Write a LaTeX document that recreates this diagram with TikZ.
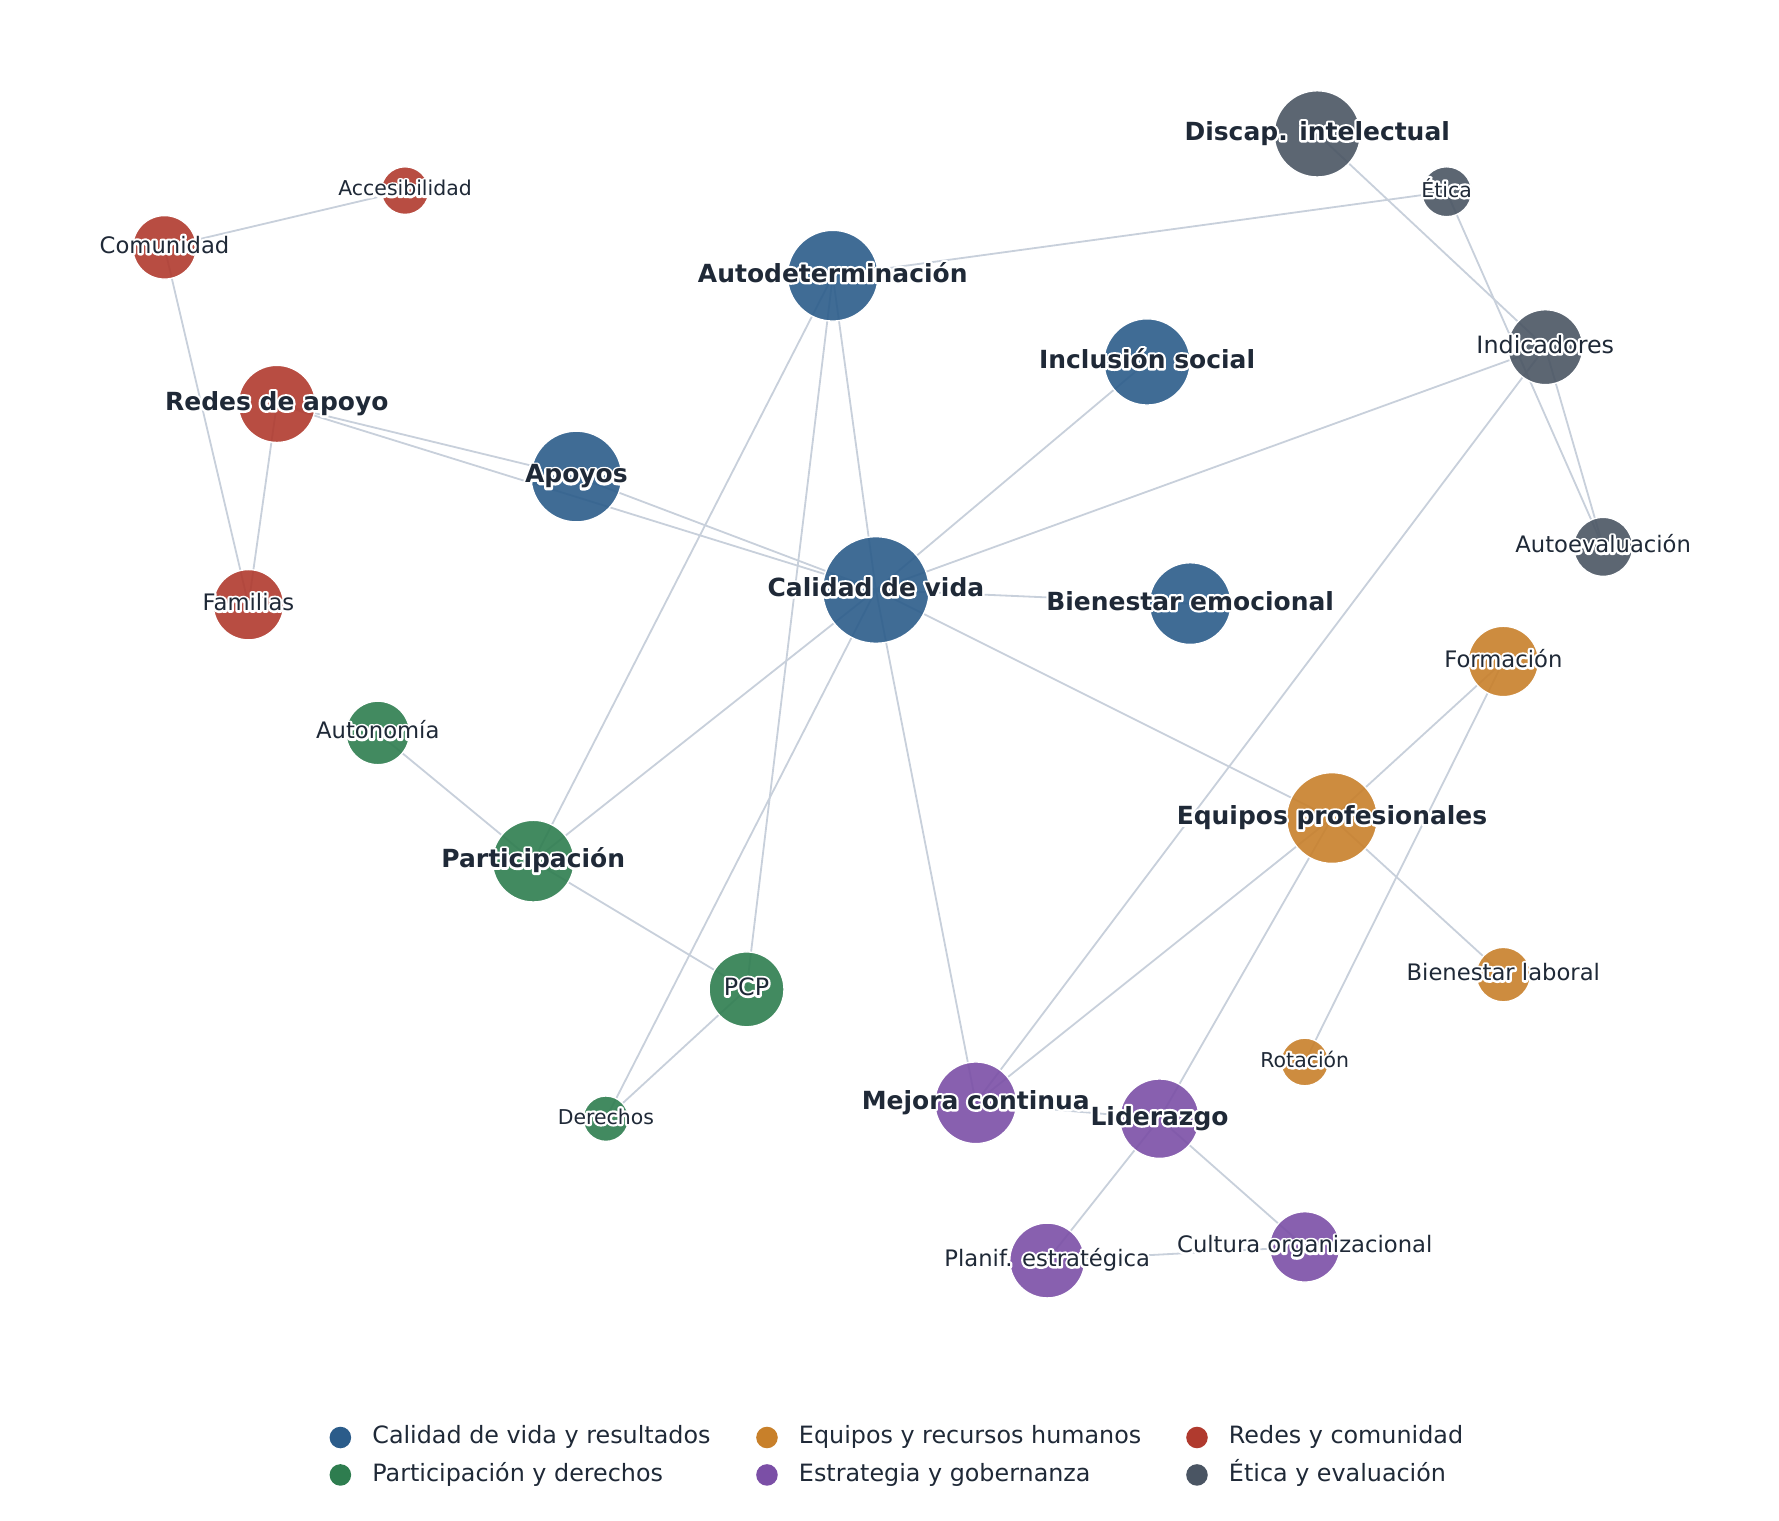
\documentclass[tikz,border=0pt]{standalone}
\usepackage{fontspec}
\setmainfont{DejaVu Sans}
\pgfdeclarelayer{edges}
\pgfdeclarelayer{labels}
\pgfsetlayers{edges,main,labels}
\definecolor{cq}{HTML}{2B5C8A}
\definecolor{cp}{HTML}{2E7D4F}
\definecolor{ce}{HTML}{C8802A}
\definecolor{cs}{HTML}{7B4FA6}
\definecolor{cr}{HTML}{B03A2E}
\definecolor{cg}{HTML}{4A5563}
\definecolor{txt}{HTML}{1F2937}
\definecolor{edgec}{HTML}{C8D0DB}
\tikzset{
  vtx/.style={circle, inner sep=0pt, draw=white, line width=1.2pt, fill opacity=0.9},
  conn/.style={draw=edgec, line width=1.6pt},
  lbold/.style={font=\fontsize{22}{26}\selectfont\bfseries, text height=16.7pt, text depth=5.3pt},
  lbig/.style={font=\fontsize{21}{25}\selectfont, text height=16pt, text depth=5pt},
  lmid/.style={font=\fontsize{20}{24}\selectfont, text height=15.2pt, text depth=4.8pt},
  lsmall/.style={font=\fontsize{18}{22}\selectfont, text height=13.7pt, text depth=4.3pt},
  legtext/.style={font=\fontsize{21}{25}\selectfont, text=txt, anchor=west, inner sep=0pt, text height=16pt, text depth=5pt},
  legdot/.style={circle, inner sep=0pt, minimum size=19pt},
}
\newcommand\vtx[5]{\node[vtx, fill=#5, minimum size=#4pt] (#1) at (#2,#3) {};}
\newcommand\haloon{\special{pdf:literal direct 1 Tr 4 w 1 j}}
\newcommand\halooff{\special{pdf:literal direct 0 Tr 0.3985 w 0 j}}
\newcommand\lbl[3]{%
  \node[#2, text=white, inner sep=0pt] (#1-h) at (#1.center) {\haloon#3\halooff};
  \node[#2, text=txt, inner sep=0pt] (#1-t) at (#1.center) {#3};}
\begin{document}
\begin{tikzpicture}[x=1pt, y=-1pt]
\useasboundingbox (0,0) rectangle (1568,1340);
% nodes
\vtx{calidad}{772}{520}{94}{cq}
\vtx{apoyos}{508}{420}{80}{cq}
\vtx{autodet}{734}{243}{80}{cq}
\vtx{inclusion}{1011}{319}{76}{cq}
\vtx{bienestar}{1049}{532}{72}{cq}
\vtx{redes}{244}{356}{68}{cr}
\vtx{comunidad}{145}{218}{56}{cr}
\vtx{accesib}{357}{168}{42}{cr}
\vtx{familias}{219}{533}{62}{cr}
\vtx{participacion}{470}{759}{72}{cp}
\vtx{pcp}{658}{872}{66}{cp}
\vtx{autonomia}{333}{646}{56}{cp}
\vtx{derechos}{534}{986}{40}{cp}
\vtx{equipos}{1174}{721}{80}{ce}
\vtx{formacion}{1325}{583}{62}{ce}
\vtx{bienlab}{1325}{859}{48}{ce}
\vtx{rotacion}{1150}{936}{42}{ce}
\vtx{mejora}{860}{972}{72}{cs}
\vtx{liderazgo}{1022}{986}{70}{cs}
\vtx{planif}{923}{1111}{66}{cs}
\vtx{cultura}{1150}{1099}{62}{cs}
\vtx{discap}{1161}{118}{76}{cg}
\vtx{etica}{1275}{169}{44}{cg}
\vtx{indicadores}{1362}{306}{66}{cg}
\vtx{autoeval}{1413}{482}{52}{cg}
% edges
\begin{pgfonlayer}{edges}
\foreach \u/\v in {redes/apoyos, redes/calidad, apoyos/calidad, comunidad/accesib,
  comunidad/familias, redes/familias, autodet/etica, autodet/calidad,
  autodet/participacion, autodet/pcp, inclusion/calidad, calidad/indicadores,
  calidad/bienestar, calidad/equipos, calidad/mejora, calidad/participacion,
  calidad/derechos, discap/indicadores, etica/autoeval, indicadores/autoeval,
  indicadores/mejora, formacion/equipos, formacion/rotacion, equipos/bienlab,
  equipos/mejora, equipos/liderazgo, autonomia/participacion, participacion/pcp,
  pcp/derechos, liderazgo/planif, liderazgo/cultura, planif/cultura, mejora/liderazgo}
  \draw[conn] (\u.center) -- (\v.center);
\end{pgfonlayer}
% labels
\begin{pgfonlayer}{labels}
\lbl{calidad}{lbold}{Calidad de vida}
\lbl{apoyos}{lbold}{Apoyos}
\lbl{autodet}{lbold}{Autodeterminación}
\lbl{inclusion}{lbold}{Inclusión social}
\lbl{bienestar}{lbold}{Bienestar emocional}
\lbl{redes}{lbold}{Redes de apoyo}
\lbl{comunidad}{lmid}{Comunidad}
\lbl{accesib}{lsmall}{Accesibilidad}
\lbl{familias}{lmid}{Familias}
\lbl{participacion}{lbold}{Participación}
\lbl{pcp}{lbig}{PCP}
\lbl{autonomia}{lmid}{Autonomía}
\lbl{derechos}{lsmall}{Derechos}
\lbl{equipos}{lbold}{Equipos profesionales}
\lbl{formacion}{lmid}{Formación}
\lbl{bienlab}{lmid}{Bienestar laboral}
\lbl{rotacion}{lsmall}{Rotación}
\lbl{mejora}{lbold}{Mejora continua}
\lbl{liderazgo}{lbold}{Liderazgo}
\lbl{planif}{lmid}{Planif. estratégica}
\lbl{cultura}{lmid}{Cultura organizacional}
\lbl{discap}{lbold}{Discap. intelectual}
\lbl{etica}{lsmall}{Ética}
\lbl{indicadores}{lbig}{Indicadores}
\lbl{autoeval}{lmid}{Autoevaluación}
\end{pgfonlayer}
% legend
\node[legdot, fill=cq] (lg1) at (300,1267) {};
\node[legtext] (lt1) at (328,1267) {Calidad de vida y resultados};
\node[legdot, fill=cp] (lg2) at (300,1300) {};
\node[legtext] (lt2) at (328,1300) {Participación y derechos};
\node[legdot, fill=ce] (lg3) at (676,1267) {};
\node[legtext] (lt3) at (704,1267) {Equipos y recursos humanos};
\node[legdot, fill=cs] (lg4) at (676,1300) {};
\node[legtext] (lt4) at (704,1300) {Estrategia y gobernanza};
\node[legdot, fill=cr] (lg5) at (1055,1267) {};
\node[legtext] (lt5) at (1083,1267) {Redes y comunidad};
\node[legdot, fill=cg] (lg6) at (1055,1300) {};
\node[legtext] (lt6) at (1083,1300) {Ética y evaluación};
\end{tikzpicture}
\end{document}
